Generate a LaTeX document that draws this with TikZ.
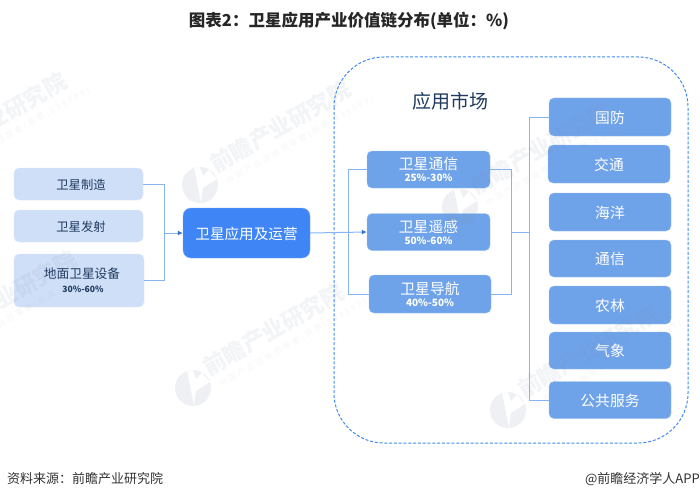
\documentclass[tikz,border=0pt]{standalone}
\usepackage{fontspec}
\usepackage{xcolor}
\setmainfont{Noto Sans CJK SC}
\usetikzlibrary{arrows.meta}

\definecolor{paleblue}{HTML}{CFDFF8}
\definecolor{strongblue}{HTML}{3F85F5}
\definecolor{midblue}{HTML}{6FA3E9}
\definecolor{linkblue}{HTML}{86B5F2}
\definecolor{dashblue}{HTML}{4089F5}
\definecolor{inkblue}{HTML}{1F3A5F}
\definecolor{markgrey}{HTML}{7C8CA8}

\begin{document}
\begin{tikzpicture}[
        x=1pt,
        y=-1pt,
        every node/.style={inner sep=0pt},
        palebox/.style={
                fill=paleblue,
                draw=paleblue!70!white,
                rounded corners=5pt,
                text=inkblue,
                font=\fontsize{12.3}{14}\selectfont,
                align=center,
            },
        midbox/.style={
                fill=midblue,
                draw=midblue!70!white,
                rounded corners=5pt,
                text=white,
                font=\fontsize{14.8}{15}\selectfont,
                align=center,
            },
        oneline/.style={text height=#1, text depth=0pt},
        link/.style={draw=linkblue, line width=1pt},
        linkarrow/.style={link, -{Latex[length=5pt,width=5pt,color=strongblue!85!black]}},
        marktext/.style={text=markgrey, text opacity=0.09, font=\fontsize{22.5}{24}\selectfont\bfseries, rotate=30, anchor=west},
        marksmall/.style={text=markgrey, text opacity=0.08, font=\fontsize{8}{9}\selectfont\addfontfeatures{LetterSpace=30}, rotate=30, anchor=west},
    ]

    \useasboundingbox (0,0) rectangle (700,500);
    \fill[white] (0,0) rectangle (700,500);

    \node[font=\fontsize{16.5}{18}\selectfont\bfseries, text=black!85] (title) at (349,21) {图表2：卫星应用产业价值链分布(单位：\%)};

    \draw[dashblue, line width=1pt, dash pattern=on 3pt off 1.8pt, rounded corners=50pt] (334,57) rectangle (688,443);
    \node[font=\fontsize{19}{21}\selectfont, text=inkblue] (market) at (450,101) {应用市场};

    % left column
    \node[palebox, oneline=10.5pt, minimum width=129pt, minimum height=32pt] (zhizao) at (78.5,184) {\hspace*{5pt}卫星制造};
    \node[palebox, oneline=10.5pt, minimum width=129pt, minimum height=32pt] (fashe) at (78.5,226) {\hspace*{5pt}卫星发射};
    \node[palebox, minimum width=130pt, minimum height=53pt] (dimian) at (79,280.5) {\hspace*{6pt}{\fontsize{12.7}{14}\selectfont 地面卫星设备}\\[0pt]\hspace*{8pt}{\fontsize{8.6}{10}\selectfont\bfseries 30\%-60\%}};
    \node[fill=strongblue, draw=strongblue!70!white, rounded corners=8pt, text=white, minimum width=127pt, minimum height=50pt, text height=12pt, text depth=0pt, font=\fontsize{14.6}{16}\selectfont] (yunying) at (246.5,233) {卫星应用及运营};

    % middle column
    \node[midbox, minimum width=123pt, minimum height=37pt] (tongxin) at (428.5,169.5) {卫星通信\\[-3pt]{\fontsize{10}{11}\selectfont\bfseries 25\%-30\%}};
    \node[midbox, minimum width=123pt, minimum height=37pt] (yaogan) at (428.5,232) {卫星遥感\\[-3pt]{\fontsize{10}{11}\selectfont\bfseries 50\%-60\%}};
    \node[midbox, minimum width=122pt, minimum height=38pt] (daohang) at (430,294) {卫星导航\\[-3pt]{\fontsize{10}{11}\selectfont\bfseries 40\%-50\%}};

    % right column
    \node[midbox, oneline=12pt, minimum width=122pt, minimum height=38pt] (guofang) at (610,117) {国防};
    \node[midbox, oneline=12pt, minimum width=122pt, minimum height=38pt] (jiaotong) at (609,164) {交通};
    \node[midbox, oneline=12pt, minimum width=122pt, minimum height=38pt] (haiyang) at (610,212) {海洋};
    \node[midbox, oneline=12pt, minimum width=122pt, minimum height=37pt] (txin) at (610,258.5) {通信};
    \node[midbox, oneline=12pt, minimum width=122pt, minimum height=38pt] (nonglin) at (610,305) {农林};
    \node[midbox, oneline=12pt, minimum width=122pt, minimum height=37pt] (qixiang) at (610,350.5) {气象};
    \node[midbox, oneline=12pt, minimum width=122pt, minimum height=37pt] (gonggong) at (610,400) {公共服务};

    \coordinate (leftjoin) at (164,233);
    \coordinate (midfork) at (348,232);
    \coordinate (midjoin) at (511,232);
    \coordinate (rightfork) at (529,232);

    \draw[link] (zhizao.east) -| (leftjoin);
    \draw[link] (dimian.east) -| (leftjoin);
    \draw[linkarrow] (leftjoin) -- (yunying.west);

    \draw[linkarrow] (yunying.east) -- (yaogan.west);
    \draw[link] (tongxin.west) -| (midfork);
    \draw[link] (daohang.west) -| (midfork);

    \draw[link] (tongxin.east) -| (midjoin);
    \draw[link] (daohang.east) -| (midjoin);
    \draw[link] (midjoin) -- (rightfork);
    \draw[link] (guofang.west) -| (rightfork);
    \draw[link] (gonggong.west) -| (rightfork);

    % watermark
    \foreach \x/\y in {200/185,460/207,193/388,508/410,-84/177,-74/355}{
            \fill[markgrey, fill opacity=0.13, even odd rule] (\x,\y) circle (18pt)
                (\x-6,\y-17) -- (\x+1,\y+17.9) -- (\x+3,\y+3) -- (\x+17,\y-6) -- (\x+9,\y-15.6) -- (\x+3,\y-9) -- (\x,\y-18) -- cycle;
            \node[marktext] at (\x+12,\y-19) {前瞻产业研究院};
            \node[marksmall] at (\x+27,\y-3) {中国产业咨询领导者(股票:839599)};
        }

    % footer
    \fill[white] (0,465) rectangle (700,500);
    \node[anchor=west, font=\fontsize{13}{15}\selectfont, text=black!80] (source) at (7,479) {资料来源：前瞻产业研究院};
    \node[anchor=east, font=\fontsize{13}{15}\selectfont, text=black!80] (brand) at (700,479) {@前瞻经济学人APP};
\end{tikzpicture}
\end{document}
